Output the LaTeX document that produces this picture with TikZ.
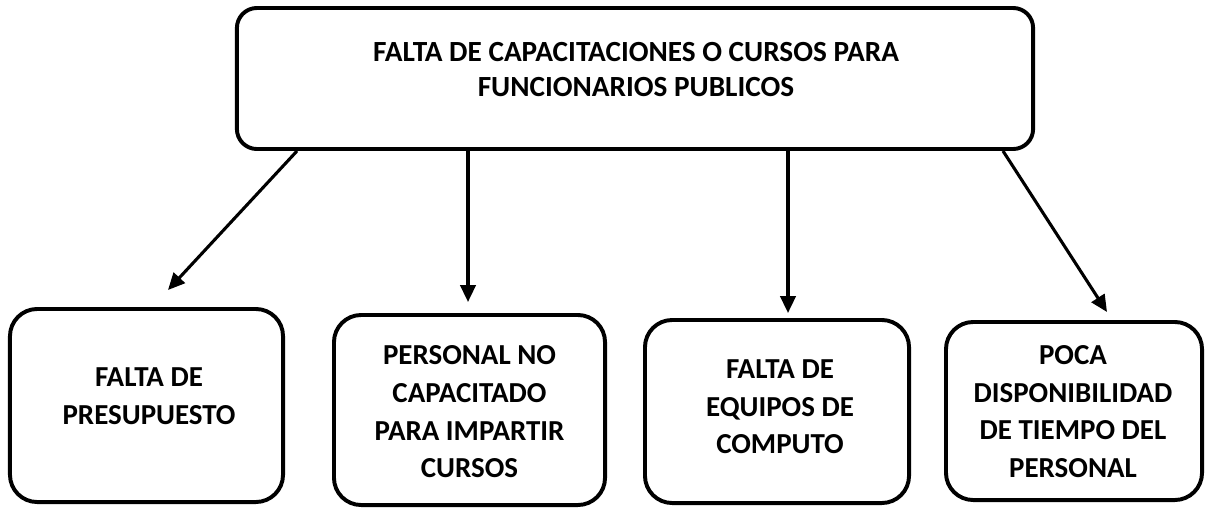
\documentclass[tikz,border=0pt]{standalone}
\usepackage{fontspec}
\setmainfont{Carlito}
\usetikzlibrary{arrows.meta}
\begin{document}
\begin{tikzpicture}[x=0.025cm,y=-0.025cm,
  topbox/.style={draw, line width=2.8pt, rounded corners=0.5cm, minimum width=19.9cm, minimum height=3.525cm, inner sep=0pt},
  causebox/.style={draw, line width=2.8pt, rounded corners=0.68cm, inner sep=0pt},
  toptext/.style={align=center, inner sep=0pt, font=\bfseries\fontsize{20.8}{24.9}\selectfont},
  causetext/.style={align=center, inner sep=0pt, font=\bfseries\fontsize{20.6}{26.8}\selectfont},
  arr/.style={line width=2.2pt, -{Triangle[length=0.42cm,width=0.38cm]}}]
\useasboundingbox (0,0) rectangle (1207,514);
% top box
\node[topbox] (top) at (635,78.5) {};
\node[toptext] (toplbl) at (636,70) {FALTA DE CAPACITACIONES O CURSOS PARA\\FUNCIONARIOS PUBLICOS};
% cause boxes
\node[causebox, minimum width=6.825cm, minimum height=4.825cm] (b1) at (146.5,405.5) {};
\node[causebox, minimum width=6.775cm, minimum height=4.75cm] (b2) at (469.5,410) {};
\node[causebox, minimum width=6.6cm, minimum height=4.575cm] (b3) at (777,411.5) {};
\node[causebox, minimum width=6.4cm, minimum height=4.45cm] (b4) at (1074,411) {};
\node[causetext] (l1) at (149,396) {FALTA DE\\PRESUPUESTO};
\node[causetext] (l2) at (469.5,412) {PERSONAL NO\\CAPACITADO\\PARA IMPARTIR\\CURSOS};
\node[causetext] (l3) at (780,407) {FALTA DE\\EQUIPOS DE\\COMPUTO};
\node[causetext] (l4) at (1073,411.5) {POCA\\DISPONIBILIDAD\\DE TIEMPO DEL\\PERSONAL};
% arrow ends
\coordinate (s1) at (297,0);
\coordinate (s4) at (1003,0);
\coordinate (t1) at (168,290);
\coordinate (t2) at (468,302);
\coordinate (t3) at (788,313);
\coordinate (t4) at (1107,312);
\draw[arr] (top.south -| s1) -- (t1);
\draw[arr] (top.south -| t2) -- (t2);
\draw[arr] (top.south -| t3) -- (t3);
\draw[arr] (top.south -| s4) -- (t4);
\end{tikzpicture}
\end{document}
